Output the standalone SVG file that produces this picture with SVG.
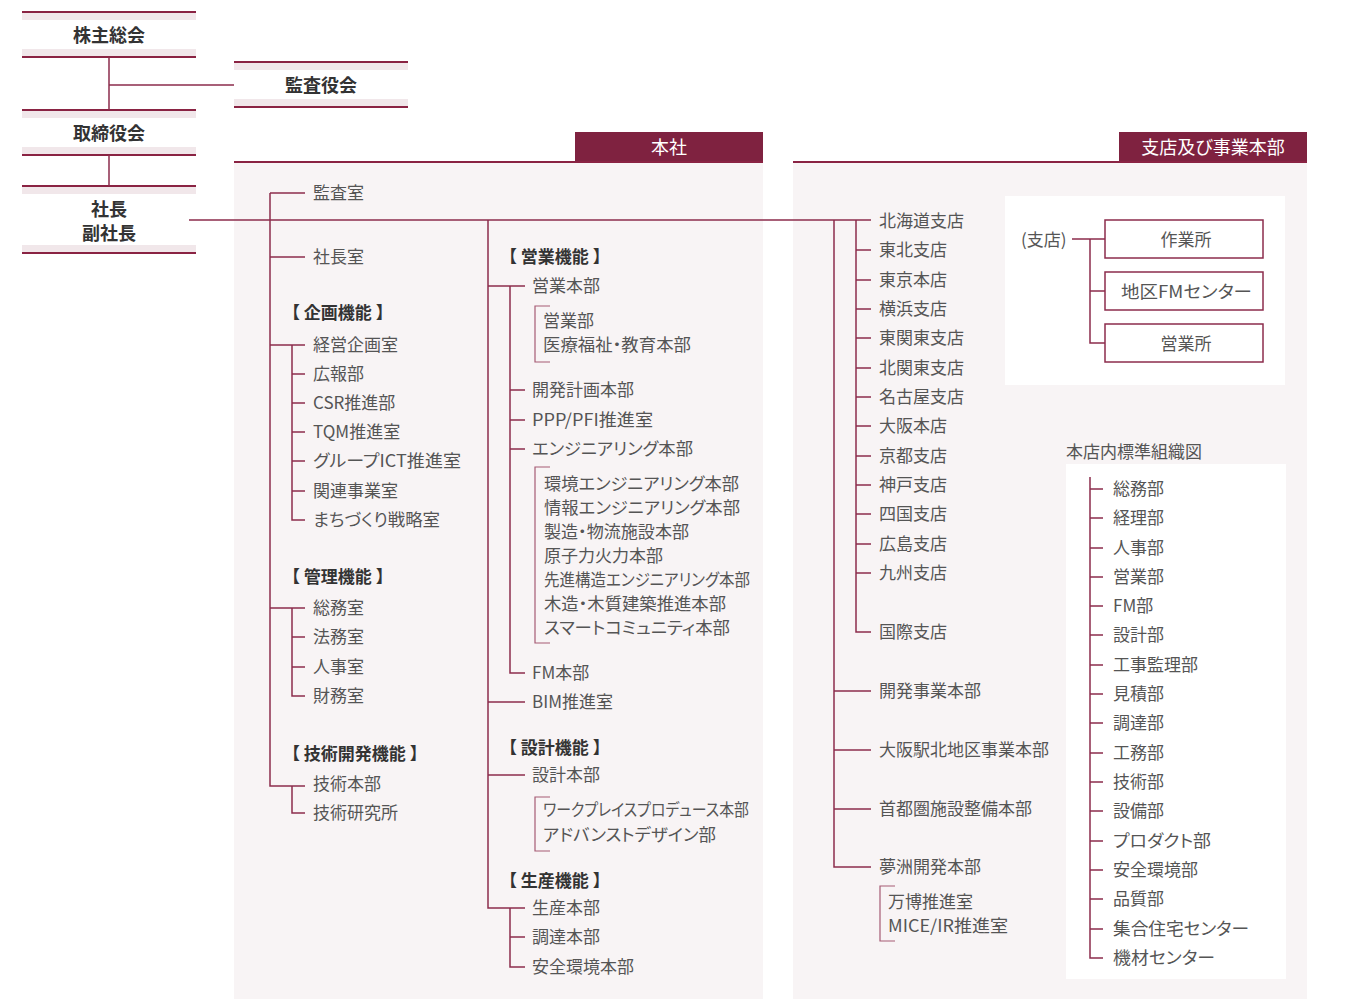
<svg xmlns="http://www.w3.org/2000/svg" width="1345" height="999" viewBox="0 0 1345 999">
<style>
text{font-family:"Noto Sans CJK JP","Noto Sans",sans-serif;dominant-baseline:central;font-feature-settings:"palt"}
.t{font-size:17px;fill:#555}
.h{font-size:17px;font-weight:bold;fill:#333;font-feature-settings:normal}
.b{font-size:18px;font-weight:bold;fill:#333;text-anchor:middle}
.w{font-size:18px;fill:#fff;text-anchor:middle}
.band{fill:#f1e7ea}
.dl{stroke:#8a2343;stroke-width:2;fill:none}
.c{stroke:#8c2c4c;stroke-width:1.5;fill:none}
.k{stroke:#a65a74;stroke-width:1.2;fill:none}
.bx{fill:#fff;stroke:#8c2c4c;stroke-width:1.5}
</style>
<rect width="1345" height="999" fill="#fff"/>

<g id="panel-honsha">
<rect x="234" y="162" width="529" height="837" fill="#f8f4f5"/>
<rect x="575" y="132" width="188" height="30" fill="#7f2240"/>
<line class="dl" x1="234" y1="162" x2="763" y2="162"/>
<text class="w" x="669" y="146">本社</text>
</g>
<g id="panel-branch">
<rect x="793" y="162" width="514" height="837" fill="#f8f4f5"/>
<rect x="1119" y="132" width="188" height="30" fill="#7f2240"/>
<line class="dl" x1="793" y1="162" x2="1307" y2="162"/>
<text class="w" x="1213" y="146">支店及び事業本部</text>
<rect x="1005" y="196" width="280" height="189" fill="#fff"/>
<text class="t" x="1066" y="450">本店内標準組織図</text>
<rect x="1066" y="464" width="220" height="515" fill="#fff"/>
</g>

<g id="kabunushi">
<rect class="band" x="22" y="12" width="174" height="8"/><rect class="band" x="22" y="49" width="174" height="8"/>
<line class="dl" x1="22" y1="12" x2="196" y2="12"/><line class="dl" x1="22" y1="57" x2="196" y2="57"/>
<text class="b" x="109" y="34">株主総会</text>
</g>
<g id="kansayakukai">
<rect class="band" x="234" y="62" width="174" height="8"/><rect class="band" x="234" y="99" width="174" height="8"/>
<line class="dl" x1="234" y1="62" x2="408" y2="62"/><line class="dl" x1="234" y1="107" x2="408" y2="107"/>
<text class="b" x="321" y="84">監査役会</text>
</g>
<g id="torishimariyakukai">
<rect class="band" x="22" y="110" width="174" height="8"/><rect class="band" x="22" y="147" width="174" height="8"/>
<line class="dl" x1="22" y1="110" x2="196" y2="110"/><line class="dl" x1="22" y1="155" x2="196" y2="155"/>
<text class="b" x="109" y="132">取締役会</text>
</g>
<g id="shacho">
<rect class="band" x="22" y="186" width="174" height="8"/><rect class="band" x="22" y="245" width="174" height="8"/>
<line class="dl" x1="22" y1="186" x2="196" y2="186"/><line class="dl" x1="22" y1="253" x2="196" y2="253"/>
<text class="b" x="109" y="208">社長</text>
<text class="b" x="109" y="232">副社長</text>
</g>

<g id="connectors">
<path class="c" d="M109 57V110M109 85H234M109 155V186M189 220H871"/>
<path class="c" d="M270 193H305M270 193V786H305M270 257H305M270 345H305M292 345V520H305M292 374H305M292 403H305M292 432H305M292 461H305M292 491H305M270 608H305M292 608V696H305M292 637H305M292 667H305M292 786V813H305"/>
<path class="c" d="M488 220V908H525M488 286H525M510 286V673H525M510 390H525M510 420H525M510 449H525M488 702H525M488 775H525M510 908V967H525M510 937H525"/>
<path class="k" d="M550 306H535V362H550M550 467H535V643H550M550 797H535V851H550M895 886H880V941H895"/>
<path class="c" d="M856 220V632H871M834 220V867H871M834 691H871M834 750H871M834 809H871"/>
<path class="c" d="M856 250H871M856 280H871M856 309H871M856 338H871M856 368H871M856 397H871M856 426H871M856 456H871M856 485H871M856 514H871M856 544H871M856 573H871"/>
<path class="c" d="M1072 239H1105M1090 239V343H1105M1090 291H1105"/>
<path class="c" d="M1090 477V958H1103M1090 489H1103M1090 518H1103M1090 548H1103M1090 577H1103M1090 606H1103M1090 635H1103M1090 665H1103M1090 694H1103M1090 723H1103M1090 753H1103M1090 782H1103M1090 811H1103M1090 841H1103M1090 870H1103M1090 899H1103M1090 929H1103"/>
</g>

<g id="honsha-left" transform="translate(0,-1.5)">
<text class="t" x="313" y="193">監査室</text>
<text class="t" x="313" y="257">社長室</text>
<text class="h" x="283" y="313">【 企画機能 】</text>
<text class="t" x="313" y="345">経営企画室</text>
<text class="t" x="313" y="374">広報部</text>
<text class="t" x="313" y="403">CSR推進部</text>
<text class="t" x="313" y="432">TQM推進室</text>
<text class="t" x="313" y="461" textLength="148" lengthAdjust="spacingAndGlyphs">グループICT推進室</text>
<text class="t" x="313" y="491">関連事業室</text>
<text class="t" x="313" y="520" textLength="127" lengthAdjust="spacingAndGlyphs">まちづくり戦略室</text>
<text class="h" x="283" y="577">【 管理機能 】</text>
<text class="t" x="313" y="608">総務室</text>
<text class="t" x="313" y="637">法務室</text>
<text class="t" x="313" y="667">人事室</text>
<text class="t" x="313" y="696">財務室</text>
<text class="h" x="283" y="754">【 技術開発機能 】</text>
<text class="t" x="313" y="784">技術本部</text>
<text class="t" x="313" y="813">技術研究所</text>
</g>

<g id="honsha-mid" transform="translate(0,-1.5)">
<text class="h" x="500" y="257">【 営業機能 】</text>
<text class="t" x="532" y="286">営業本部</text>
<text class="t" x="543" y="321">営業部</text>
<text class="t" x="543" y="345" textLength="148" lengthAdjust="spacingAndGlyphs">医療福祉・教育本部</text>
<text class="t" x="532" y="390">開発計画本部</text>
<text class="t" x="532" y="420" textLength="121" lengthAdjust="spacingAndGlyphs">PPP/PFI推進室</text>
<text class="t" x="532" y="449" textLength="161" lengthAdjust="spacingAndGlyphs">エンジニアリング本部</text>
<text class="t" x="544" y="484" textLength="195" lengthAdjust="spacingAndGlyphs">環境エンジニアリング本部</text>
<text class="t" x="544" y="508" textLength="196" lengthAdjust="spacingAndGlyphs">情報エンジニアリング本部</text>
<text class="t" x="544" y="532" textLength="145" lengthAdjust="spacingAndGlyphs">製造・物流施設本部</text>
<text class="t" x="544" y="556">原子力火力本部</text>
<text class="t" x="544" y="580" textLength="206" lengthAdjust="spacingAndGlyphs">先進構造エンジニアリング本部</text>
<text class="t" x="544" y="604" textLength="182" lengthAdjust="spacingAndGlyphs">木造・木質建築推進本部</text>
<text class="t" x="544" y="628" textLength="186" lengthAdjust="spacingAndGlyphs">スマートコミュニティ本部</text>
<text class="t" x="532" y="673">FM本部</text>
<text class="t" x="532" y="702">BIM推進室</text>
<text class="h" x="500" y="748">【 設計機能 】</text>
<text class="t" x="532" y="775">設計本部</text>
<text class="t" x="543" y="810" textLength="206" lengthAdjust="spacingAndGlyphs">ワークプレイスプロデュース本部</text>
<text class="t" x="543" y="835" textLength="173" lengthAdjust="spacingAndGlyphs">アドバンストデザイン部</text>
<text class="h" x="500" y="881">【 生産機能 】</text>
<text class="t" x="532" y="908">生産本部</text>
<text class="t" x="532" y="937">調達本部</text>
<text class="t" x="532" y="967">安全環境本部</text>
</g>

<g id="branches" transform="translate(0,-1.5)">
<text class="t" x="879" y="221">北海道支店</text>
<text class="t" x="879" y="250">東北支店</text>
<text class="t" x="879" y="280">東京本店</text>
<text class="t" x="879" y="309">横浜支店</text>
<text class="t" x="879" y="338">東関東支店</text>
<text class="t" x="879" y="368">北関東支店</text>
<text class="t" x="879" y="397">名古屋支店</text>
<text class="t" x="879" y="426">大阪本店</text>
<text class="t" x="879" y="456">京都支店</text>
<text class="t" x="879" y="485">神戸支店</text>
<text class="t" x="879" y="514">四国支店</text>
<text class="t" x="879" y="544">広島支店</text>
<text class="t" x="879" y="573">九州支店</text>
<text class="t" x="879" y="632">国際支店</text>
<text class="t" x="879" y="691">開発事業本部</text>
<text class="t" x="879" y="750">大阪駅北地区事業本部</text>
<text class="t" x="879" y="809">首都圏施設整備本部</text>
<text class="t" x="879" y="867">夢洲開発本部</text>
<text class="t" x="888" y="902">万博推進室</text>
<text class="t" x="888" y="926" textLength="120" lengthAdjust="spacingAndGlyphs">MICE/IR推進室</text>
</g>

<g id="shiten-box">
<text class="t" x="1021" y="238">(支店)</text>
<g id="sagyosho"><rect class="bx" x="1105" y="220" width="158" height="38"/><text class="t" x="1186" y="238" text-anchor="middle">作業所</text></g>
<g id="fm-center"><rect class="bx" x="1105" y="272" width="158" height="38"/><text class="t" x="1121" y="290" textLength="131" lengthAdjust="spacingAndGlyphs">地区FMセンター</text></g>
<g id="eigyosho"><rect class="bx" x="1105" y="324" width="158" height="38"/><text class="t" x="1186" y="342" text-anchor="middle">営業所</text></g>
</g>

<g id="honten-std" transform="translate(0,-1.5)">
<text class="t" x="1113" y="489">総務部</text>
<text class="t" x="1113" y="518">経理部</text>
<text class="t" x="1113" y="548">人事部</text>
<text class="t" x="1113" y="577">営業部</text>
<text class="t" x="1113" y="606">FM部</text>
<text class="t" x="1113" y="635">設計部</text>
<text class="t" x="1113" y="665">工事監理部</text>
<text class="t" x="1113" y="694">見積部</text>
<text class="t" x="1113" y="723">調達部</text>
<text class="t" x="1113" y="753">工務部</text>
<text class="t" x="1113" y="782">技術部</text>
<text class="t" x="1113" y="811">設備部</text>
<text class="t" x="1113" y="841" textLength="98" lengthAdjust="spacingAndGlyphs">プロダクト部</text>
<text class="t" x="1113" y="870">安全環境部</text>
<text class="t" x="1113" y="899">品質部</text>
<text class="t" x="1113" y="929" textLength="136" lengthAdjust="spacingAndGlyphs">集合住宅センター</text>
<text class="t" x="1113" y="958" textLength="102" lengthAdjust="spacingAndGlyphs">機材センター</text>
</g>
</svg>
